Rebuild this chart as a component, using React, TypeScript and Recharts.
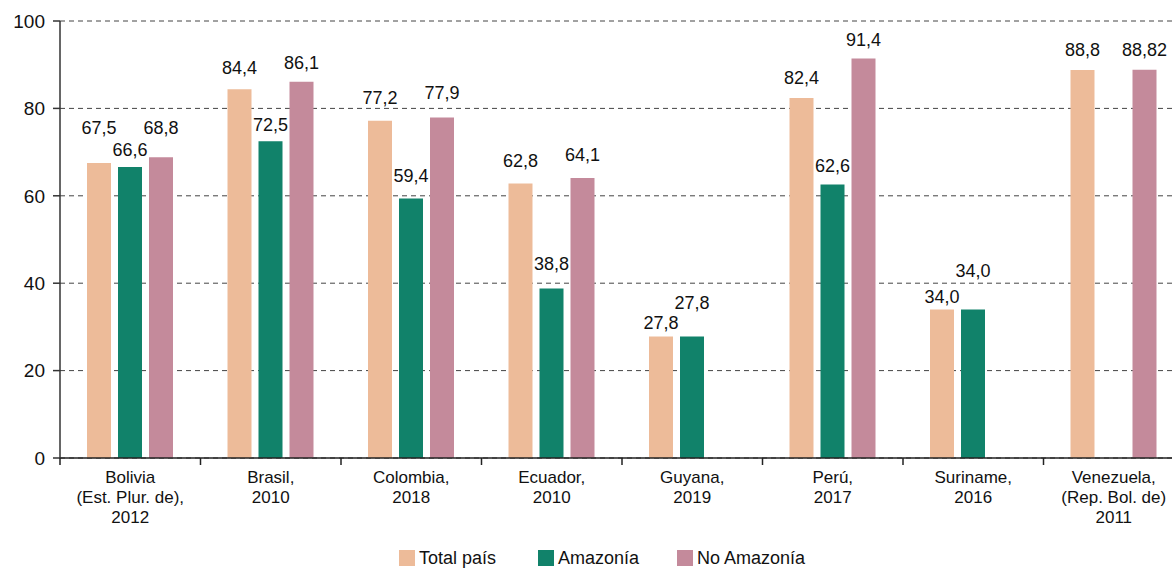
import { BarChart, Bar, XAxis, YAxis, CartesianGrid, LabelList, Legend } from "recharts";

const CATEGORIES = [
  "Bolivia\n(Est. Plur. de),\n2012",
  "Brasil,\n2010",
  "Colombia,\n2018",
  "Ecuador,\n2010",
  "Guyana,\n2019",
  "Perú,\n2017",
  "Suriname,\n2016",
  "Venezuela,\n(Rep. Bol. de)\n2011",
];
const TOTAL = [67.5, 84.4, 77.2, 62.8, 27.8, 82.4, 34.0, 88.8];
const AMAZONIA = [66.6, 72.5, 59.4, 38.8, 27.8, 62.6, 34.0, null];
const NO_AMAZONIA = [68.8, 86.1, 77.9, 64.1, null, 91.4, null, 88.82];
const Y_TICKS = [0, 20, 40, 60, 80, 100];

// how far each value label sits above its bar (px), as in the original
const LIFT_TOTAL = [35, 21, 23, 23, 14, 20, 12, 20];
const LIFT_AMAZONIA = [17, 16, 22, 24, 34, 18, 38, 0];
const LIFT_NO_AMAZONIA = [29, 19, 25, 23, 0, 19, 0, 20];

const SERIES = [
  { key: "total", name: "Total país", color: "#EDBB99", lift: LIFT_TOTAL },
  { key: "amazonia", name: "Amazonía", color: "#11826A", lift: LIFT_AMAZONIA },
  { key: "noAmazonia", name: "No Amazonía", color: "#C48A9B", lift: LIFT_NO_AMAZONIA },
];

const data = CATEGORIES.map((c, i) => ({
  idx: i,
  name: c,
  total: TOTAL[i],
  amazonia: AMAZONIA[i],
  noAmazonia: NO_AMAZONIA[i],
}));

const FONT = "'Liberation Sans', Arial, Helvetica, sans-serif";
const CHART_W = 1200;
const CHART_H = 568;
const MARGIN = { top: 21, right: 16, left: 0, bottom: 0 };
const Y_W = 60;
const BAND = (CHART_W - MARGIN.right - MARGIN.left - Y_W) / CATEGORIES.length;

const fmt = (v: number) => {
  const oneDec = Math.abs(v * 10 - Math.round(v * 10)) < 1e-6;
  return (oneDec ? v.toFixed(1) : String(v)).replace(".", ",");
};

// label value carries the category index so nulls don't shift the lifts
const labelKey = (key: string) => (row: any) => (row[key] == null ? null : `${row.idx}|${row[key]}`);

const makeLabel = (lift: number[]) => (props: any) => {
  const { x, y, width, value } = props;
  if (value == null) return null;
  const [i, v] = String(value).split("|");
  return (
    <text
      x={x + width / 2}
      y={y - lift[Number(i)]}
      textAnchor="middle"
      dominantBaseline="central"
      fontSize={18}
      fontFamily={FONT}
      fill="#111"
    >
      {fmt(Number(v))}
    </text>
  );
};

const CategoryTick = (props: any) => {
  const { x, y, payload } = props;
  const lines = String(payload.value).split("\n");
  return (
    <g>
      <line x1={x - BAND / 2} x2={x - BAND / 2} y1={y} y2={y + 7} stroke="#222" strokeWidth={1.5} />
      <text x={x} y={y + 25} textAnchor="middle" fontSize={17} fontFamily={FONT} fill="#111">
        {lines.map((l, i) => (
          <tspan key={i} x={x} dy={i === 0 ? 0 : 20}>
            {l}
          </tspan>
        ))}
      </text>
    </g>
  );
};

const LegendContent = () => (
  <div style={{ display: "flex", height: 20, alignItems: "center", marginLeft: 399, fontFamily: FONT, fontSize: 18, color: "#111" }}>
    {SERIES.map((s) => (
      <div key={s.key} style={{ display: "flex", alignItems: "center", width: 139 }}>
        <span style={{ display: "inline-block", width: 16, height: 16, background: s.color, marginRight: 4 }} />
        <span style={{ whiteSpace: "nowrap" }}>{s.name}</span>
      </div>
    ))}
  </div>
);

export default function App() {
  return (
    <div style={{ position: "fixed", left: 0, top: 0, width: 1172, height: 568, overflow: "hidden", background: "#fff" }}>
      <BarChart width={CHART_W} height={CHART_H} data={data} margin={MARGIN} barCategoryGap={27} barGap={7}>
        <CartesianGrid vertical={false} stroke="#444" strokeDasharray="5 4" />
        <XAxis
          dataKey="name"
          interval={0}
          height={90}
          tickSize={0}
          tickMargin={0}
          tickLine={false}
          axisLine={{ stroke: "#222", strokeWidth: 1.5 }}
          tick={<CategoryTick />}
        />
        <YAxis
          width={Y_W}
          domain={[0, 100]}
          ticks={Y_TICKS}
          tickSize={7}
          tickMargin={8}
          axisLine={{ stroke: "#333", strokeWidth: 1.5 }}
          tickLine={{ stroke: "#333", strokeWidth: 1.5 }}
          tick={{ fontSize: 19, fontFamily: FONT, fill: "#111" }}
        />
        <Legend verticalAlign="bottom" height={20} content={<LegendContent />} />
        {SERIES.map((s) => (
          <Bar key={s.key} dataKey={s.key} name={s.name} fill={s.color} isAnimationActive={false}>
            <LabelList dataKey={labelKey(s.key)} content={makeLabel(s.lift)} />
          </Bar>
        ))}
      </BarChart>
    </div>
  );
}
